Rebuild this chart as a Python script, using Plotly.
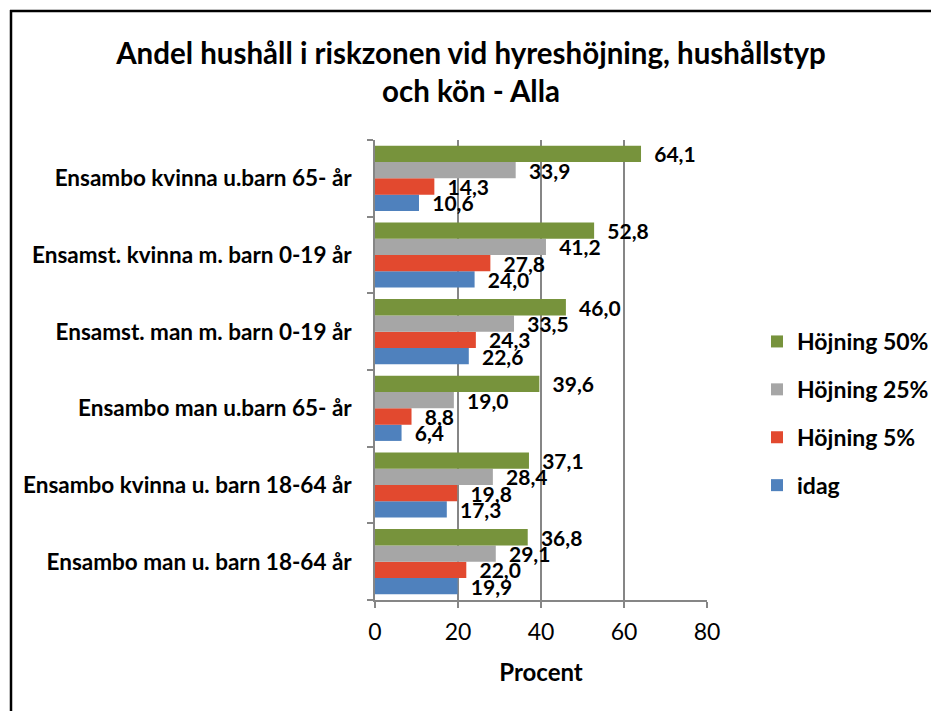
import plotly.graph_objects as go

categories = [
    "Ensambo kvinna u.barn 65- år",
    "Ensamst. kvinna m. barn 0-19 år",
    "Ensamst. man m. barn 0-19 år",
    "Ensambo man u.barn 65- år",
    "Ensambo kvinna u. barn 18-64 år",
    "Ensambo man u. barn 18-64 år",
]
hojning_50 = [64.1, 52.8, 46.0, 39.6, 37.1, 36.8]
hojning_25 = [33.9, 41.2, 33.5, 19.0, 28.4, 29.1]
hojning_5 = [14.3, 27.8, 24.3, 8.8, 19.8, 22.0]
idag = [10.6, 24.0, 22.6, 6.4, 17.3, 19.9]
x_ticks = [0, 20, 40, 60, 80]

OFF = 8  # page body margin
W, H = 939 - OFF, 711 - OFF
L, T = 375 - OFF, 140 - OFF
R = W - (707 - OFF)
B = H - (600 - OFF)
pw, ph = W - L - R, H - T - B

FONT = "Lato"
series = [
    ("idag", idag, "#4F81BD", 4),
    ("Höjning 5%", hojning_5, "#E2492F", 3),
    ("Höjning 25%", hojning_25, "#A6A6A6", 2),
    ("Höjning 50%", hojning_50, "#77933C", 1),
]

fig = go.Figure()
for name, vals, col, rank in series:
    fig.add_trace(go.Bar(
        y=categories, x=vals, name=name, orientation="h",
        marker=dict(color=col, line=dict(width=0)),
        legendgroup=name, legendrank=rank,
        texttemplate="\u00a0\u00a0%{x:.1f}", textposition="outside",
        textfont=dict(family=FONT, size=21, color="black", weight="bold"),
        constraintext="none", cliponaxis=False,
    ))


def px_x(p):
    return (p - OFF - L) / pw


def px_y(p):
    return (H - B - (p - OFF)) / ph


fig.update_layout(
    width=W, height=H,
    margin=dict(l=L, r=R, t=T, b=B, autoexpand=False),
    paper_bgcolor="white", plot_bgcolor="white",
    separators=", ",
    barmode="group", bargap=0.15, bargroupgap=0,
    font=dict(family=FONT, color="black"),
    title=dict(
        text="Andel hushåll i riskzonen vid hyreshöjning, hushållstyp<br>och kön - Alla",
        x=(471 - OFF) / W, xref="container", xanchor="center",
        y=1 - 56 / H, yref="container", yanchor="top",
        font=dict(family=FONT, size=29.5, color="black", weight="bold"),
    ),
    xaxis=dict(
        range=[0, 80], tickvals=x_ticks, showgrid=True, gridcolor="#868686", gridwidth=1.5,
        zeroline=False, showline=True, linecolor="#868686", linewidth=1.5,
        ticks="outside", ticklen=6, tickcolor="#868686", tickwidth=1.5,
        tickfont=dict(family=FONT, size=23, color="black"),
        ticklabelstandoff=5,
        title=dict(text="Procent", font=dict(family=FONT, size=24, color="black", weight="bold"), standoff=20),
    ),
    yaxis=dict(
        categoryorder="array", categoryarray=categories[::-1],
        showline=True, linecolor="#868686", linewidth=1.5,
        ticks="outside", ticklen=6, tickcolor="#868686", tickwidth=1.5, tickson="boundaries",
        showgrid=False,
        tickfont=dict(family=FONT, size=22.5, color="black", weight="bold"),
        ticklabelstandoff=17,
    ),
    legend=dict(
        x=px_x(757), y=px_y(320), xanchor="left", yanchor="top",
        traceorder="grouped", tracegroupgap=15,
        font=dict(family=FONT, size=23, color="black", weight="bold"),
        bgcolor="rgba(0,0,0,0)",
    ),
    shapes=[
        dict(type="line", xref="paper", yref="paper",
             x0=px_x(11), x1=px_x(11), y0=px_y(740), y1=px_y(10),
             line=dict(color="black", width=2.5), layer="above"),
        dict(type="line", xref="paper", yref="paper",
             x0=px_x(10), x1=px_x(960), y0=px_y(11), y1=px_y(11),
             line=dict(color="black", width=2.5), layer="above"),
    ],
    annotations=[dict(
        text="Diagram 3.7", xref="paper", yref="paper",
        x=px_x(0), y=px_y(7), xanchor="left", yanchor="bottom", showarrow=False,
        font=dict(family=FONT, size=20, color="#1F5FA8"),
    )],
)

fig.write_html("out.html")
